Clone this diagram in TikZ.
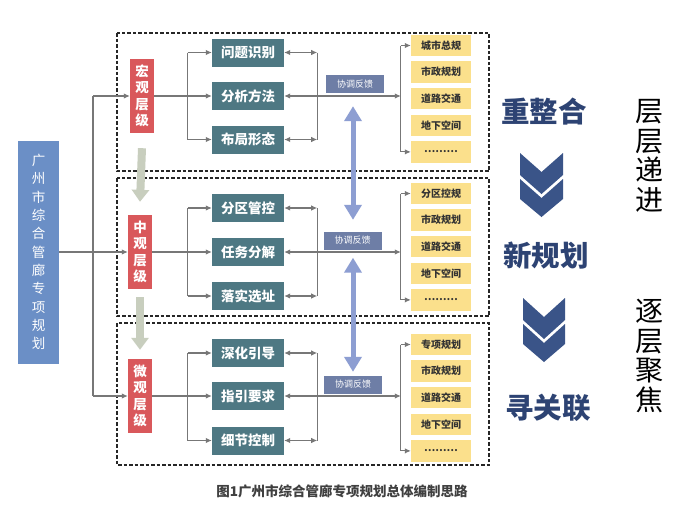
\documentclass[tikz,border=0pt]{standalone}
\usepackage{fontspec}
\setmainfont{Noto Sans CJK SC}
\usetikzlibrary{arrows.meta,calc}
\definecolor{mainblue}{HTML}{6B8FC6}
\definecolor{lvred}{HTML}{D9585B}
\definecolor{tealc}{HTML}{4E7883}
\definecolor{yelc}{HTML}{FBE08C}
\definecolor{coordc}{HTML}{6E7EA6}
\definecolor{barrowc}{HTML}{8D9ED2}
\definecolor{garrowc}{HTML}{C8CEBE}
\definecolor{conncol}{HTML}{777777}
\definecolor{navyc}{HTML}{2D4373}
\definecolor{chevc}{HTML}{3A5488}
\begin{document}
\begin{tikzpicture}[x=1pt,y=-1pt,
 box/.style={draw=none,inner sep=0pt,anchor=center},
 mainbox/.style={box, fill=mainblue, minimum width=41pt, minimum height=223pt, text=white, font=\fontsize{13.5}{18.3}\selectfont, align=center},
 lvbox/.style={box, fill=lvred, minimum width=24pt, minimum height=74pt, text=white, font=\bfseries\fontsize{13.5}{16.5}\selectfont, align=center},
 tbox/.style={box, fill=tealc, minimum width=72pt, minimum height=28pt, text=white, font=\bfseries\fontsize{13.5}{14}\selectfont},
 ybox/.style={box, fill=yelc, minimum width=60pt, minimum height=21.5pt, text=black!80, font=\bfseries\fontsize{10}{11}\selectfont},
 cbox/.style={box, fill=coordc, minimum width=58pt, minimum height=18pt, text=white, font=\fontsize{9}{9}\selectfont},
 cline/.style={draw=conncol, line width=1.1pt},
 arr/.style={cline, -{Latex[length=6pt,width=5.5pt]}},
 darr/.style={cline, {Latex[length=6pt,width=5.5pt]}-{Latex[length=6pt,width=5.5pt]}},
 group/.style={draw=black!85, line width=1.1pt, dash pattern=on 3.5pt off 2pt},
 barr/.style={draw=barrowc, line width=5pt, {Triangle[width=17pt,length=15pt]}-{Triangle[width=17pt,length=15pt]}},
 garr/.style={draw=garrowc, line width=8pt, -{Triangle[width=17pt,length=12pt]}},
 bigtxt/.style={font=\bfseries\fontsize{28.5}{30}\selectfont, text=navyc},
 sidetxt/.style={font=\fontsize{28}{29.5}\selectfont, text=black, align=center, inner sep=0pt},
]
\useasboundingbox (0,0) rectangle (689,512);
\fill[white] (0,0) rectangle (689,512);

% dashed group frames
\draw[group] (117,33) rectangle (489,171);
\draw[group] (117,178) rectangle (489,316);
\draw[group] (117,323) rectangle (489,465);

% main box and levels
\node[mainbox] (main) at (38.5,252) {广\\州\\市\\综\\合\\管\\廊\\专\\项\\规\\划};
\node[lvbox] (L1) at (142,96) {宏\\观\\层\\级};
\node[lvbox] (L2) at (140,252) {中\\观\\层\\级};
\node[lvbox] (L3) at (140,396) {微\\观\\层\\级};

\coordinate (t1) at (93,96);
\coordinate (t3) at (93,396);
\draw[cline] (t1) -- (t3);
\draw[arr] (t1) -- (L1.west);
\draw[arr] (t3) -- (L3.west);
\draw[arr] (main.east) -- (L2.west);

% level arrows
\draw[garr] ($(L1.south)+(0,15)$) -- ($(L2.north)+(0,-13)$);
\draw[garr] ($(L2.south)+(0,8)$) -- ($(L3.north)+(0,-9)$);

% teal boxes
\node[tbox] (T11) at (248,52.5) {问题识别};
\node[tbox] (T12) at (248,96) {分析方法};
\node[tbox] (T13) at (248,139.5) {布局形态};
\node[tbox] (T21) at (248,208) {分区管控};
\node[tbox] (T22) at (248,252) {任务分解};
\node[tbox] (T23) at (248,296) {落实选址};
\node[tbox] (T31) at (248,353) {深化引导};
\node[tbox] (T32) at (248,396) {指引要求};
\node[tbox] (T33) at (248,440.5) {细节控制};

% yellow boxes
\node[ybox] (Y11) at (441,45.5) {城市总规};
\node[ybox] (Y12) at (441,72.1) {市政规划};
\node[ybox] (Y13) at (441,98.7) {道路交通};
\node[ybox] (Y14) at (441,125.3) {地下空间};
\node[ybox] (Y15) at (441,151.9) {………};
\node[ybox] (Y21) at (441,193.5) {分区控规};
\node[ybox] (Y22) at (441,220.1) {市政规划};
\node[ybox] (Y23) at (441,246.7) {道路交通};
\node[ybox] (Y24) at (441,273.3) {地下空间};
\node[ybox] (Y25) at (441,299.9) {………};
\node[ybox] (Y31) at (441,344.5) {专项规划};
\node[ybox] (Y32) at (441,371.1) {市政规划};
\node[ybox] (Y33) at (441,397.7) {道路交通};
\node[ybox] (Y34) at (441,424.3) {地下空间};
\node[ybox] (Y35) at (441,450.9) {………};

% coordination boxes
\node[cbox] (C1) at (355,84) {协调反馈};
\node[cbox] (C2) at (352.5,240.5) {协调反馈};
\node[cbox] (C3) at (353,384.5) {协调反馈};

% connectors per group
\foreach \g/\L in {1/L1,2/L2,3/L3}{
  \draw[arr] (\L.east) -- (T\g2.west);
  \coordinate (bt\g) at ($(T\g1.west)+(-24,0)$);
  \coordinate (bb\g) at ($(T\g3.west)+(-24,0)$);
  \draw[cline] (bt\g) -- (bb\g);
  \draw[arr] (bt\g) -- (T\g1.west);
  \draw[arr] (bb\g) -- (T\g3.west);
  \coordinate (rt\g) at ($(T\g1.east)+(33,0)$);
  \coordinate (rb\g) at ($(T\g3.east)+(33,0)$);
  \draw[cline] (rt\g) -- (rb\g);
  \draw[darr] (T\g1.east) -- (rt\g);
  \draw[darr] (T\g3.east) -- (rb\g);
  \coordinate (yt\g) at ($(Y\g1.west)+(-10,0)$);
  \coordinate (yb\g) at ($(Y\g5.west)+(-10,0)$);
  \coordinate (ym\g) at (yt\g |- T\g2.east);
  \draw[darr] (T\g2.east) -- (ym\g);
  \draw[cline] (yt\g) -- (yb\g);
  \draw[arr] (yt\g) -- (Y\g1.west);
  \draw[arr] (yb\g) -- (Y\g5.west);
}

% blue feedback arrows
\draw[barr] ($(C1.south)+(-2,13)$) -- ($(C2.north)+(0.5,-11.5)$);
\draw[barr] ($(C2.south)+(0.5,8)$) -- ($(C3.north)+(0,-3.5)$);

% right side
\node[bigtxt] (r1) at (544,112) {重整合};
\node[bigtxt] (r2) at (546,256) {新规划};
\node[bigtxt] (r3) at (548,408) {寻关联};
\fill[chevc] (520,153) -- (541.5,172) -- (563,153) -- (563,175) -- (541.5,194) -- (520,175) -- cycle;
\fill[chevc] (520,179) -- (541.5,198) -- (563,179) -- (563,199) -- (541.5,217) -- (520,199) -- cycle;
\fill[chevc] (523,298) -- (544,317) -- (565,298) -- (565,320) -- (544,339) -- (523,320) -- cycle;
\fill[chevc] (523,324) -- (544,343) -- (565,324) -- (565,344) -- (544,362) -- (523,344) -- cycle;
\node[sidetxt] (s1) at (649,156) {层\\层\\递\\进};
\node[sidetxt] (s2) at (649,356) {逐\\层\\聚\\焦};

% caption
\node[font=\bfseries\fontsize{13.5}{14}\selectfont, text=black!75] (cap) at (342,491) {图1广州市综合管廊专项规划总体编制思路};
\end{tikzpicture}
\end{document}
